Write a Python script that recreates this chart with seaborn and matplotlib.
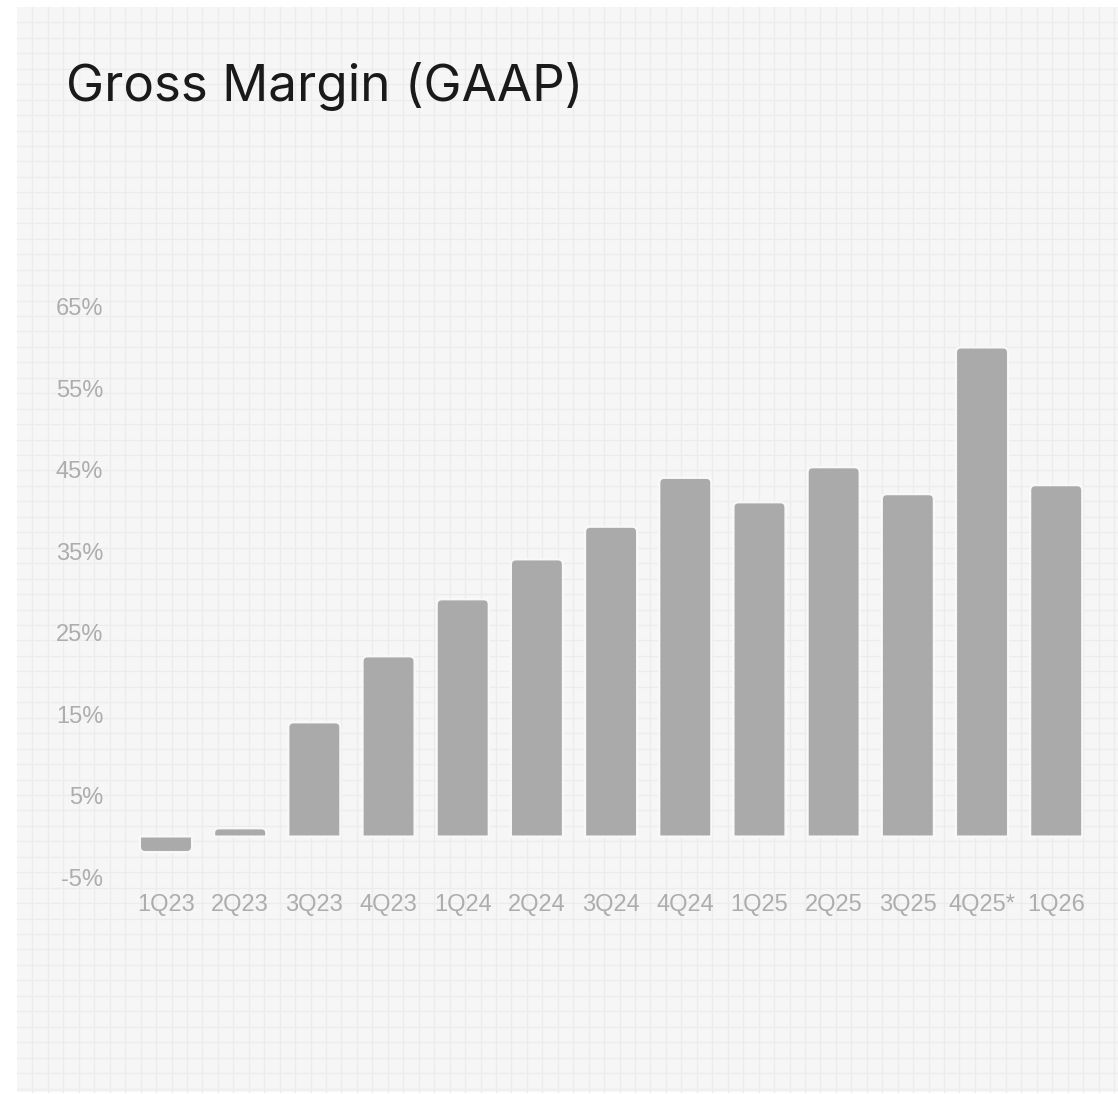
import numpy as np
import pandas as pd
import matplotlib
matplotlib.use("Agg")
import matplotlib.pyplot as plt
from matplotlib.path import Path
from matplotlib.patches import PathPatch, Rectangle
import seaborn as sns

# Quarterly GAAP gross margin, percent
quarters = ["1Q23", "2Q23", "3Q23", "4Q23", "1Q24", "2Q24", "3Q24",
            "4Q24", "1Q25", "2Q25", "3Q25", "4Q25*", "1Q26"]
gross_margin = [-1.9, 1.0, 14.0, 22.1, 29.1, 34.0, 38.0,
                44.0, 41.0, 45.3, 42.0, 60.0, 43.1]
y_ticks = [-5, 5, 15, 25, 35, 45, 55, 65]
y_tick_labels = ["-5%", "5%", "15%", "25%", "35%", "45%", "55%", "65%"]

df = pd.DataFrame({"quarter": quarters, "margin": gross_margin})

sns.set_theme(style="white")
plt.rcParams["font.family"] = ["Liberation Sans", "DejaVu Sans"]

W, H = 1118, 1094
fig = plt.figure(figsize=(W / 100, H / 100), dpi=100)
fig.patch.set_facecolor("white")

# Graph-paper backdrop, in pixel coordinates
bg = fig.add_axes([0, 0, 1, 1], zorder=-5)
bg.set_xlim(0, W)
bg.set_ylim(H, 0)
bg.axis("off")
px0, py0, py1 = 17, 7, 1092
bg.add_patch(Rectangle((px0, py0), W - px0, py1 - py0,
                       facecolor="#f6f6f6", edgecolor="none"))
step = 15.45
for gx in np.arange(px0 + step, W, step):
    bg.plot([gx, gx], [py0, py1], color="#ececec", lw=1.0)
for gy in np.arange(py0 + step, py1, step):
    bg.plot([px0, W], [gy, gy], color="#ececec", lw=1.0)

# Chart axes
left_px, right_px = 128.9, 1093.3
ymin, ymax = -6, 68
zero_px, px_per_unit = 836.5, 8.15
top_px = zero_px - ymax * px_per_unit
bot_px = zero_px - ymin * px_per_unit
ax = fig.add_axes([left_px / W, 1 - bot_px / H,
                   (right_px - left_px) / W, (bot_px - top_px) / H])
ax.patch.set_alpha(0)

sns.barplot(data=df, x="quarter", y="margin", color="#a6a6a6",
            width=0.70, saturation=1, ax=ax, zorder=2)
ax.set_xlim(-0.5, len(quarters) - 0.5)
ax.set_ylim(ymin, ymax)

# Replace the plain rectangles with bars rounded at their outer end
x_per_px = (len(quarters)) / (right_px - left_px)
y_per_px = 1 / px_per_unit
r_px = 5.0
rx, ry = r_px * x_per_px, r_px * y_per_px
for bar in list(ax.patches):
    x0 = bar.get_x()
    x1 = x0 + bar.get_width()
    y0 = bar.get_y()
    h = bar.get_height()
    y1 = y0 + h
    s = 1 if h >= 0 else -1
    ryy = min(ry, abs(h) / 2)
    verts = [(x0, y0), (x0, y1 - s * ryy), (x0, y1), (x0 + rx, y1),
             (x1 - rx, y1), (x1, y1), (x1, y1 - s * ryy), (x1, y0), (x0, y0)]
    codes = [Path.MOVETO, Path.LINETO, Path.CURVE3, Path.CURVE3,
             Path.LINETO, Path.CURVE3, Path.CURVE3, Path.LINETO, Path.CLOSEPOLY]
    ax.add_patch(PathPatch(Path(verts, codes), facecolor="#a6a6a6",
                           edgecolor="#fbfbfb", lw=1.5, alpha=0.95, zorder=3))
    bar.remove()

ax.set_yticks(y_ticks)
ax.set_yticklabels(y_tick_labels)
ax.set_xlabel("")
ax.set_ylabel("")
for sp in ax.spines.values():
    sp.set_visible(False)
ax.tick_params(axis="y", length=0, pad=18.5, labelsize=17, labelcolor="#adadad")
ax.tick_params(axis="x", length=0, pad=6.5, labelsize=17, labelcolor="#adadad")
ax.grid(False)

fig.text(66 / W, 1 - 101 / H, "Gross Margin (GAAP)", fontsize=36.8,
         family=["Inter", "DejaVu Sans"], color="#1a1a1a",
         ha="left", va="baseline")

fig.savefig("out.png", dpi=100)
